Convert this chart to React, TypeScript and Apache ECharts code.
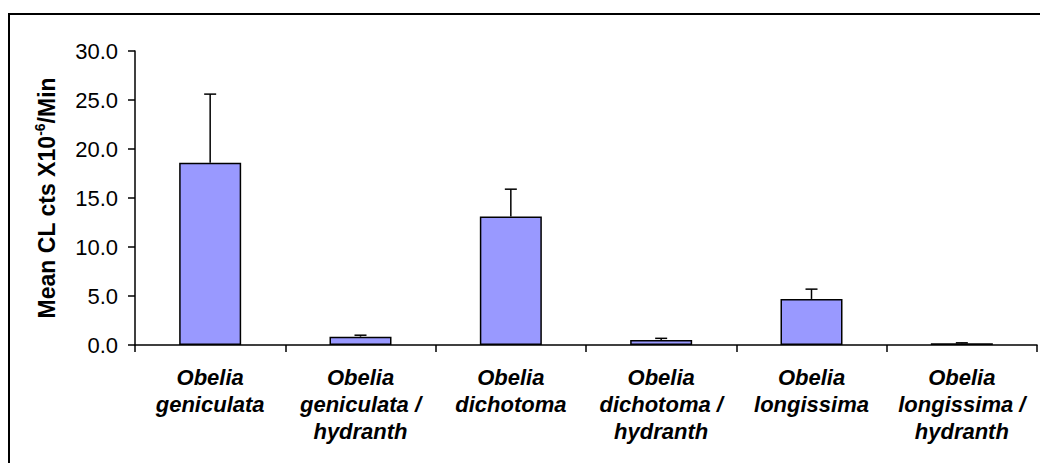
import React, { useEffect, useRef } from "react";
import * as echarts from "echarts";

const categories = [
  "Obelia\ngeniculata",
  "Obelia\ngeniculata /\nhydranth",
  "Obelia\ndichotoma",
  "Obelia\ndichotoma /\nhydranth",
  "Obelia\nlongissima",
  "Obelia\nlongissima /\nhydranth",
];
const means = [18.6, 0.85, 13.1, 0.5, 4.7, 0.18];
const errors = [7.0, 0.15, 2.8, 0.18, 1.0, 0.04];
const yTicks = { min: 0, max: 30, interval: 5 };

const FONT = '"Liberation Sans", Arial, sans-serif';

export default function App() {
  const ref = useRef<HTMLDivElement>(null);
  useEffect(() => {
    if (!ref.current) return;
    const chart = echarts.init(ref.current, null, { renderer: "svg" });
    const errData = means.map((m, i) => [i, m, m + errors[i]]);
    chart.setOption({
      animation: false,
      backgroundColor: "#ffffff",
      textStyle: { fontFamily: FONT },
      grid: { left: 135, top: 51, right: 3, bottom: 118 },
      graphic: [
        {
          type: "rect",
          shape: { x: 9, y: 14, width: 1200, height: 1000 },
          style: { fill: "none", stroke: "#000", lineWidth: 2 },
          silent: true,
        },
      ],
      xAxis: {
        type: "category",
        data: categories,
        axisLine: { lineStyle: { color: "#000", width: 1.5 } },
        axisTick: { show: true, length: 7, lineStyle: { color: "#000", width: 1.5 } },
        axisLabel: {
          interval: 0,
          margin: 19,
          color: "#000",
          fontFamily: FONT,
          fontSize: 22,
          fontWeight: "bold",
          fontStyle: "italic",
          lineHeight: 27,
        },
        splitLine: { show: false },
      },
      yAxis: {
        type: "value",
        min: yTicks.min,
        max: yTicks.max,
        interval: yTicks.interval,
        axisLine: { show: true, lineStyle: { color: "#000", width: 1.5 } },
        axisTick: { show: true, length: 7, lineStyle: { color: "#000", width: 1.5 } },
        splitLine: { show: false },
        axisLabel: {
          margin: 17,
          color: "#000",
          fontFamily: FONT,
          fontSize: 22,
          formatter: (v: number) => v.toFixed(1),
        },
        name: "{b|Mean CL cts X10}{s|-6}{b|/Min}",
        nameLocation: "middle",
        nameGap: 74,
        nameRotate: 90,
        nameTextStyle: {
          rich: {
            b: { fontFamily: FONT, fontSize: 23, fontWeight: "bold", color: "#000", lineHeight: 28 },
            s: {
              fontFamily: FONT,
              fontSize: 14,
              fontWeight: "bold",
              color: "#000",
              lineHeight: 28,
              verticalAlign: "top",
              padding: [0, 0, 11, 0],
            },
          },
        },
      },
      series: [
        {
          type: "bar",
          data: means,
          barWidth: 62,
          itemStyle: { color: "#9999FF", borderColor: "#000", borderWidth: 1.5 },
          z: 2,
        },
        {
          type: "custom",
          data: errData,
          z: 3,
          renderItem: (params: any, api: any) => {
            const i = api.value(0);
            const lo = api.coord([i, api.value(1)]);
            const hi = api.coord([i, api.value(2)]);
            const half = 6;
            return {
              type: "group",
              children: [
                {
                  type: "line",
                  shape: { x1: lo[0], y1: lo[1], x2: hi[0], y2: hi[1] },
                  style: { stroke: "#000", lineWidth: 1.5 },
                },
                {
                  type: "line",
                  shape: { x1: hi[0] - half, y1: hi[1], x2: hi[0] + half, y2: hi[1] },
                  style: { stroke: "#000", lineWidth: 1.5 },
                },
              ],
            };
          },
        },
      ],
    });
    return () => chart.dispose();
  }, []);
  return (
    <div
      ref={ref}
      style={{ position: "absolute", left: 0, top: 0, width: 1040, height: 463 }}
    />
  );
}
